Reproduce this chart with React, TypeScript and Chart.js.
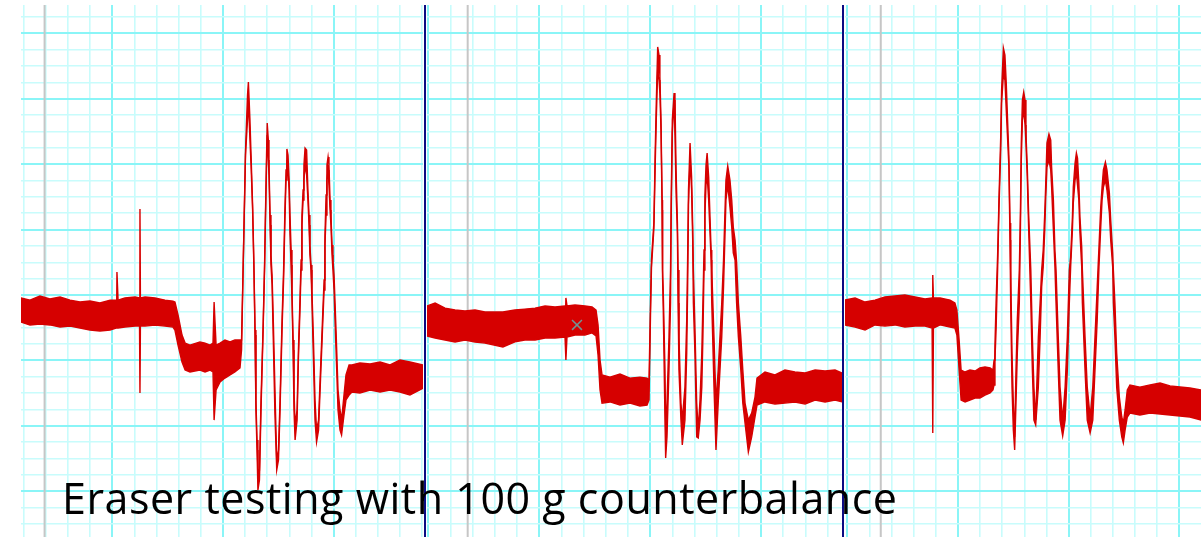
import React, { useEffect, useRef } from "react";
import { Chart, registerables } from "chart.js";

Chart.register(...registerables);

// All values in oscilloscope grid divisions.
// Each row: [time (div), trace envelope max (div), trace envelope min (div)]
const panel1Trace: [number, number, number][] = [
  [-4.13, -0.18, -1.65], [-3.72, -0.31, -1.83], [-3.27, -0.06, -1.77], [-2.82, -0.24, -1.83],
  [-2.36, -0.12, -1.96], [-1.91, -0.31, -1.9], [-1.46, -0.43, -2.02], [-1.01, -0.37, -2.14],
  [-0.56, -0.49, -2.2], [-0.1, -0.31, -2.14], [0.17, -0.31, -2.02], [0.21, 1.41, -2.02],
  [0.26, -0.31, -2.02], [0.57, -0.18, -1.96], [1.03, -0.12, -1.9], [1.23, -0.18, -1.9],
  [1.25, 5.26, -5.99], [1.27, -0.18, -1.9], [1.48, -0.12, -1.9], [1.93, -0.18, -1.83],
  [2.38, -0.31, -1.9], [2.74, -0.37, -1.96], [2.83, -0.43, -2.14], [2.97, -1.22, -3.06],
  [3.15, -2.45, -4.1], [3.29, -2.94, -4.59], [3.51, -3.06, -4.71], [3.96, -2.87, -4.59],
  [4.19, -2.94, -4.71], [4.42, -3.06, -4.59], [4.55, -2.94, -4.71], [4.6, -0.43, -7.65],
  [4.69, -3.06, -5.81], [4.87, -2.94, -5.32], [5.09, -2.75, -5.08], [5.32, -2.87, -4.89],
  [5.54, -2.75, -4.71], [5.77, -2.75, -4.46], [5.84, -2.75, -3.36], [5.91, 1.53, 1.53],
  [6.02, 8.87, 8.56], [6.11, 12.23, 10.7], [6.15, 13.03, 11.93], [6.22, 10.7, 9.48],
  [6.27, 8.56, 7.95], [6.34, 5.5, 5.2], [6.4, 1.83, 1.53], [6.45, -2.14, -2.45],
  [6.49, -6.42, -7.03], [6.54, -8.87, -9.48], [6.58, -10.7, -11.93], [6.65, -10.7, -11.31],
  [6.72, -6.42, -7.03], [6.81, -2.14, -2.45], [6.88, 1.83, 1.53], [6.92, 4.89, 4.59],
  [6.97, 8.56, 7.95], [7.0, 10.52, 9.79], [7.05, 9.48, 8.26], [7.08, 7.95, 7.34],
  [7.13, 4.89, 4.28], [7.17, 2.45, 1.83], [7.22, 1.22, 0.61], [7.28, -1.83, -3.06],
  [7.35, -5.81, -7.34], [7.43, -10.09, -10.7], [7.51, -9.48, -10.09], [7.58, -6.42, -7.03],
  [7.67, -1.53, -2.14], [7.74, 1.53, 0.92], [7.8, 5.2, 4.59], [7.85, 7.65, 7.03],
  [7.89, 8.93, 8.26], [7.94, 8.56, 7.65], [7.99, 7.03, 6.42], [8.03, 4.89, 3.67],
  [8.08, 2.75, 1.83], [8.12, 0.31, -0.31], [8.17, -2.75, -3.36], [8.21, -5.81, -7.03],
  [8.26, -7.95, -8.87], [8.35, -7.03, -7.65], [8.41, -3.36, -3.98], [8.48, -0.31, -0.92],
  [8.53, 2.14, 1.53], [8.57, 4.89, 4.28], [8.62, 6.42, 5.81], [8.66, 7.95, 7.03],
  [8.71, 8.99, 7.95], [8.78, 8.87, 7.34], [8.84, 6.42, 5.81], [8.89, 4.89, 4.28],
  [8.93, 3.06, 2.45], [8.98, 1.83, 1.53], [9.02, 0.31, -0.31], [9.09, -2.75, -3.98],
  [9.16, -6.42, -7.65], [9.23, -8.26, -8.99], [9.32, -7.65, -8.26], [9.39, -5.2, -5.81],
  [9.48, -2.14, -2.75], [9.57, 0.92, 0.31], [9.61, 3.67, 3.06], [9.66, 6.12, 4.89],
  [9.7, 7.95, 7.03], [9.75, 8.44, 7.65], [9.79, 7.95, 6.73], [9.84, 5.81, 5.2],
  [9.88, 4.89, 4.28], [9.93, 3.06, 2.45], [9.97, 2.14, 1.53], [10.02, 1.22, 0.31],
  [10.11, -2.14, -3.36], [10.2, -5.81, -7.03], [10.29, -7.03, -8.26], [10.36, -7.65, -8.56],
  [10.47, -6.12, -7.34], [10.56, -4.89, -6.42], [10.7, -4.28, -6.12], [10.83, -4.28, -5.93],
  [11.19, -4.16, -5.99], [11.65, -4.22, -5.81], [12.1, -4.1, -5.93], [12.55, -4.28, -5.81],
  [13.0, -3.98, -5.93], [13.45, -4.1, -6.12], [14.05, -4.28, -5.69],
];

const panel2Trace: [number, number, number][] = [
  [-5.07, -0.67, -2.51], [-4.7, -0.49, -2.63], [-4.25, -0.8, -2.75], [-3.8, -0.92, -2.87],
  [-3.35, -0.98, -2.75], [-2.9, -0.92, -2.87], [-2.45, -1.04, -2.94], [-1.64, -1.04, -3.18],
  [-1.1, -0.92, -2.87], [-0.65, -0.86, -2.75], [-0.19, -0.8, -2.75], [0.26, -0.67, -2.63],
  [0.71, -0.73, -2.63], [1.16, -0.67, -2.57], [1.2, -0.18, -3.98], [1.25, -0.67, -2.57],
  [1.61, -0.61, -2.45], [2.06, -0.67, -2.45], [2.38, -0.73, -2.32], [2.56, -0.92, -2.51],
  [2.65, -1.83, -3.67], [2.74, -3.98, -5.81], [2.83, -4.89, -6.61], [3.19, -5.02, -6.54],
  [3.64, -4.83, -6.73], [4.09, -5.08, -6.61], [4.54, -5.02, -6.79], [4.86, -5.08, -6.73],
  [4.95, -5.2, -6.42], [5.02, -0.31, -0.92], [5.06, 2.14, 1.65], [5.17, 4.46, 4.1],
  [5.23, 8.87, 8.07], [5.28, 11.93, 10.89], [5.34, 15.17, 13.76], [5.4, 14.68, 13.15],
  [5.44, 13.33, 12.35], [5.49, 10.7, 10.09], [5.54, 5.81, 5.2], [5.56, 1.53, 1.1],
  [5.59, 0.31, -0.73], [5.67, -4.59, -7.65], [5.7, -8.26, -9.97], [5.76, -6.61, -8.68],
  [5.85, -2.57, -4.59], [5.92, 1.53, -0.49], [5.95, 5.81, 5.02], [6.0, 10.7, 9.91],
  [6.08, 12.35, 11.93], [6.12, 11.93, 9.79], [6.17, 7.65, 6.24], [6.23, 4.4, 3.79],
  [6.26, 1.53, -0.49], [6.3, -2.57, -4.59], [6.39, -6.61, -7.65], [6.45, -7.65, -9.17],
  [6.57, -5.63, -7.65], [6.65, -1.53, -3.55], [6.69, 2.14, 0.31], [6.73, 6.42, 5.5],
  [6.8, 9.3, 8.26], [6.87, 7.22, 6.42], [6.92, 4.16, 3.36], [6.95, 1.53, -0.49],
  [7.02, -1.96, -3.55], [7.1, -6.61, -8.68], [7.17, -8.26, -8.75], [7.25, -6.42, -7.65],
  [7.33, -3.55, -5.63], [7.38, -0.49, -2.57], [7.43, 2.75, 1.53], [7.47, 6.12, 4.89],
  [7.52, 7.95, 6.73], [7.57, 8.68, 7.34], [7.64, 7.22, 5.81], [7.7, 4.77, 3.79],
  [7.75, 2.75, 2.14], [7.78, 1.53, -0.49], [7.88, -2.57, -5.63], [7.97, -6.61, -9.48],
  [8.07, -4.59, -6.61], [8.23, -0.49, -2.57], [8.31, 2.14, 0.49], [8.37, 4.89, 3.36],
  [8.42, 7.03, 5.81], [8.5, 7.89, 6.73], [8.6, 7.03, 5.38], [8.68, 5.81, 4.16],
  [8.75, 4.16, 2.57], [8.83, 3.36, 2.14], [8.9, 2.02, -0.49], [8.98, -0.49, -2.57],
  [9.09, -2.57, -4.59], [9.18, -4.59, -6.61], [9.28, -6.61, -7.83], [9.43, -7.65, -9.6],
  [9.58, -7.22, -8.68], [9.73, -6.24, -7.46], [9.82, -5.08, -6.73], [10.18, -4.71, -6.54],
  [10.63, -4.89, -6.67], [11.08, -4.59, -6.61], [11.53, -4.71, -6.54], [11.99, -4.77, -6.67],
  [12.44, -4.59, -6.42], [12.89, -4.65, -6.54], [13.34, -4.59, -6.42], [13.66, -4.77, -6.54],
];

const panel3Trace: [number, number, number][] = [
  [-5.11, -0.31, -1.83], [-4.65, -0.18, -1.96], [-4.2, -0.43, -2.14], [-3.75, -0.31, -1.83],
  [-3.3, -0.12, -1.9], [-2.85, -0.06, -1.83], [-2.4, 0.0, -1.96], [-1.94, -0.12, -1.9],
  [-1.49, -0.24, -1.9], [-1.17, -0.18, -2.02], [-1.14, 1.22, -8.44], [-1.11, -0.18, -2.02],
  [-0.81, -0.18, -1.83], [-0.36, -0.31, -1.96], [-0.14, -0.49, -2.02], [-0.05, -0.92, -2.45],
  [0.05, -2.75, -4.59], [0.14, -4.59, -6.42], [0.32, -4.71, -6.54], [0.54, -4.59, -6.42],
  [0.77, -4.65, -6.3], [0.99, -4.46, -6.3], [1.22, -4.4, -6.12], [1.45, -4.46, -5.99],
  [1.58, -4.59, -5.81], [1.63, -3.98, -5.5], [1.67, -3.06, -3.98], [1.72, -0.49, -2.14],
  [1.79, 2.45, 1.53], [1.85, 5.81, 5.2], [1.93, 9.66, 8.87], [1.97, 12.54, 11.74],
  [2.05, 15.11, 13.46], [2.12, 14.68, 13.15], [2.18, 12.97, 11.31], [2.3, 8.44, 7.83],
  [2.35, 4.4, 3.36], [2.38, 1.53, -0.49], [2.44, -3.55, -5.63], [2.5, -6.61, -8.26],
  [2.56, -8.68, -9.48], [2.62, -4.59, -6.61], [2.68, -1.53, -3.55], [2.77, 1.53, -0.49],
  [2.82, 5.02, 3.98], [2.86, 9.3, 8.26], [2.91, 11.93, 10.7], [2.97, 12.42, 11.31],
  [3.03, 11.93, 10.4], [3.07, 9.91, 9.3], [3.13, 7.83, 7.22], [3.19, 5.02, 4.16],
  [3.29, 1.53, -0.49], [3.36, -2.57, -4.59], [3.43, -5.63, -7.65], [3.51, -7.65, -7.95],
  [3.63, -2.57, -5.63], [3.71, -0.49, -2.57], [3.78, 1.53, 0.49], [3.85, 2.75, 1.71],
  [3.92, 5.02, 3.98], [3.96, 6.61, 5.81], [4.02, 9.3, 7.83], [4.11, 9.85, 8.26],
  [4.19, 9.48, 7.65], [4.23, 7.83, 6.61], [4.31, 5.81, 3.98], [4.38, 2.75, 1.71],
  [4.43, 1.53, -0.49], [4.53, -2.57, -4.59], [4.61, -5.63, -7.65], [4.73, -7.65, -8.62],
  [4.84, -5.63, -7.65], [4.94, -2.57, -4.59], [5.03, 1.53, -0.49], [5.09, 2.32, 1.71],
  [5.17, 4.77, 3.98], [5.21, 6.61, 5.63], [5.29, 8.07, 7.03], [5.35, 8.68, 7.46],
  [5.4, 8.38, 6.73], [5.46, 6.85, 5.81], [5.51, 4.77, 3.79], [5.59, 2.94, 1.71],
  [5.62, 1.53, -0.49], [5.74, -2.57, -4.59], [5.84, -5.63, -7.65], [5.97, -7.46, -8.44],
  [6.09, -5.63, -7.65], [6.19, -2.57, -4.59], [6.29, 0.49, -1.53], [6.37, 2.94, 1.71],
  [6.45, 5.38, 4.16], [6.51, 6.61, 5.81], [6.57, 7.65, 6.61], [6.66, 8.13, 7.03],
  [6.73, 7.65, 6.42], [6.84, 6.24, 5.02], [6.9, 4.59, 3.36], [6.99, 2.57, 1.71],
  [7.02, 1.53, -0.49], [7.09, -0.49, -2.57], [7.17, -3.55, -5.63], [7.29, -6.24, -7.65],
  [7.4, -7.46, -8.68], [7.47, -7.83, -9.05], [7.55, -7.03, -8.26], [7.65, -5.81, -7.46],
  [7.77, -5.5, -7.22], [8.22, -5.63, -7.34], [8.68, -5.5, -7.22], [9.13, -5.38, -7.28],
  [9.58, -5.56, -7.34], [10.03, -5.63, -7.4], [10.48, -5.69, -7.46], [10.99, -5.81, -7.65],
];

// Gray cursor line position in each capture (div)
const cursorPositions = [-3.06, -3.23, -3.49];
// Measurement cross marker in capture 2: [time, value]
const crossMarker: [number, number] = [1.7, -1.83];

const captionText = "Eraser testing with 100 g counterbalance";

// Visible ranges of each capture window (div)
const xRanges: [number, number][] = [
  [-4.126, 14.04],
  [-5.065, 13.654],
  [-5.106, 10.98],
];
const yRange: [number, number] = [-14.8, 17.737];

const RED = "rgb(214,0,0)";

type PanelCfg = {
  left: number;
  width: number;
  trace: [number, number, number][];
  range: [number, number];
  cursor: number;
  marker?: [number, number];
};

const PANELS: PanelCfg[] = [
  { left: 21, width: 402, trace: panel1Trace, range: xRanges[0], cursor: cursorPositions[0] },
  { left: 427, width: 415, trace: panel2Trace, range: xRanges[1], cursor: cursorPositions[1], marker: crossMarker },
  { left: 845, width: 356, trace: panel3Trace, range: xRanges[2], cursor: cursorPositions[2] },
];

const TOP = 5;
const HEIGHT = 532;
const CAPTION_WIDTH = 835;

function Panel({ cfg }: { cfg: PanelCfg }) {
  const ref = useRef<HTMLCanvasElement>(null);
  useEffect(() => {
    const canvas = ref.current;
    if (!canvas) return;
    const hi = cfg.trace.map((r) => ({ x: r[0], y: r[1] }));
    const lo = cfg.trace.map((r) => ({ x: r[0], y: r[2] }));
    const datasets: any[] = [
      {
        data: hi,
        borderColor: RED,
        borderWidth: 1.4,
        pointRadius: 0,
        fill: false,
        order: 1,
      },
      {
        data: lo,
        borderColor: RED,
        borderWidth: 1.4,
        pointRadius: 0,
        fill: "-1",
        backgroundColor: RED,
        order: 1,
      },
      {
        data: [
          { x: cfg.cursor, y: yRange[0] },
          { x: cfg.cursor, y: yRange[1] },
        ],
        borderColor: "#c6c6c6",
        borderWidth: 2,
        pointRadius: 0,
        fill: false,
        order: 3,
      },
    ];
    if (cfg.marker) {
      datasets.push({
        data: [{ x: cfg.marker[0], y: cfg.marker[1] }],
        showLine: false,
        pointStyle: "crossRot",
        pointRadius: 7,
        pointBorderColor: "#6f9595",
        pointBorderWidth: 1.5,
        pointBackgroundColor: "transparent",
        order: 0,
      });
    }
    const gridX = {
      drawTicks: false,
      color: (c: any) => (Math.abs(Math.round(c.tick.value)) % 5 === 0 ? "#8af5f7" : "#c8fcfc"),
      lineWidth: (c: any) => (Math.abs(Math.round(c.tick.value)) % 5 === 0 ? 2 : 1.6),
    };
    const gridY = {
      drawTicks: false,
      color: (c: any) => (Math.abs(Math.round(c.tick.value)) % 4 === 0 ? "#8af5f7" : "#c8fcfc"),
      lineWidth: (c: any) => (Math.abs(Math.round(c.tick.value)) % 4 === 0 ? 2 : 1.6),
    };
    const chart = new Chart(canvas, {
      type: "line",
      data: { datasets },
      options: {
        animation: false,
        responsive: false,
        events: [],
        layout: { padding: 0, autoPadding: false },
        elements: { line: { tension: 0 } },
        plugins: {
          legend: { display: false },
          tooltip: { enabled: false },
          title: { display: false },
        },
        scales: {
          x: {
            type: "linear",
            min: cfg.range[0],
            max: cfg.range[1],
            border: { display: false },
            ticks: { display: false, stepSize: 1, autoSkip: false, includeBounds: false },
            grid: gridX as any,
          },
          y: {
            type: "linear",
            min: yRange[0],
            max: yRange[1],
            border: { display: false },
            ticks: { display: false, stepSize: 1, autoSkip: false, includeBounds: false },
            grid: gridY as any,
          },
        },
      } as any,
    });
    return () => chart.destroy();
  }, [cfg]);
  return (
    <canvas
      ref={ref}
      width={cfg.width}
      height={HEIGHT}
      style={{
        position: "absolute",
        left: cfg.left,
        top: TOP,
        width: cfg.width,
        height: HEIGHT,
        display: "block",
      }}
    />
  );
}

function Caption() {
  const ref = useRef<HTMLSpanElement>(null);
  useEffect(() => {
    const el = ref.current;
    if (!el) return;
    el.style.letterSpacing = "0px";
    const w = el.getBoundingClientRect().width;
    const n = captionText.length;
    if (n > 1) el.style.letterSpacing = `${(CAPTION_WIDTH - w) / (n - 1)}px`;
  }, []);
  return (
    <span
      ref={ref}
      style={{
        position: "absolute",
        left: 62,
        top: 476,
        fontFamily: "'Open Sans', sans-serif",
        fontSize: 43,
        lineHeight: "43px",
        color: "#000",
        whiteSpace: "nowrap",
      }}
    >
      {captionText}
    </span>
  );
}

export default function App() {
  return (
    <div
      style={{
        position: "absolute",
        left: 0,
        top: 0,
        width: 1201,
        height: 537,
        background: "#ffffff",
        overflow: "hidden",
      }}
    >
      {PANELS.map((p, i) => (
        <Panel key={i} cfg={p} />
      ))}
      <div style={{ position: "absolute", left: 424, top: TOP, width: 2, height: HEIGHT, background: "#0c0c82" }} />
      <div style={{ position: "absolute", left: 842, top: TOP, width: 2, height: HEIGHT, background: "#0c0c82" }} />
      <Caption />
    </div>
  );
}
